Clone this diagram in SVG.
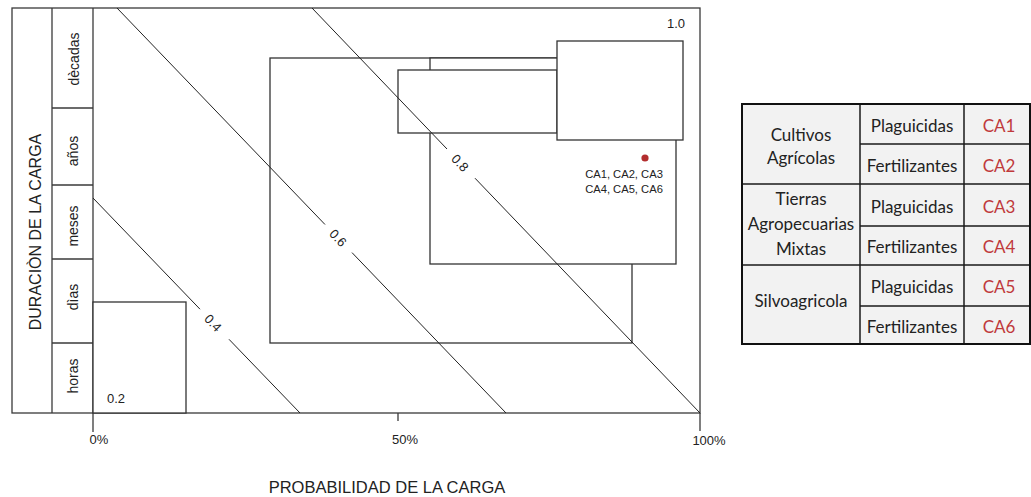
<svg xmlns="http://www.w3.org/2000/svg" width="1031" height="497" viewBox="0 0 1031 497">
<style>
.ln{stroke:#3a3a3a;stroke-width:1.3;fill:none}
.bx{stroke:#333;stroke-width:1.3;fill:#fff}
.dg{stroke:#222;stroke-width:1;fill:none}
.t{font-family:"Liberation Sans",Arial,sans-serif;fill:#222}
.tb{font-family:Lato,"Liberation Sans",sans-serif;font-size:17px;fill:#222;text-anchor:middle}
.red{fill:#c0393b}
</style>
<rect width="1031" height="497" fill="#fff"/>
<g id="chart">
  <rect x="12" y="8" width="688" height="405" class="ln"/>
  <line x1="52" y1="8" x2="52" y2="413" class="ln"/>
  <line x1="93" y1="8" x2="93" y2="432" class="ln"/>
  <line x1="52" y1="108" x2="93" y2="108" class="ln"/>
  <line x1="52" y1="185" x2="93" y2="185" class="ln"/>
  <line x1="52" y1="259" x2="93" y2="259" class="ln"/>
  <line x1="52" y1="343" x2="93" y2="343" class="ln"/>
  <line x1="398" y1="413" x2="398" y2="421" class="ln"/>
  <line x1="700" y1="413" x2="700" y2="431" class="ln"/>
</g>
<g id="boxes">
  <rect x="93" y="302" width="93" height="111" class="bx"/>
  <rect x="270" y="58" width="362" height="285" class="bx"/>
  <rect x="430" y="58" width="246" height="206" class="bx"/>
  <rect x="398" y="70" width="159" height="63" class="bx"/>
  <rect x="557" y="41" width="126" height="99" class="bx"/>
</g>
<g id="connectors">
  <line x1="93" y1="198" x2="200" y2="309.2" class="dg"/>
  <line x1="229" y1="339.3" x2="300" y2="413" class="dg"/>
  <line x1="117" y1="8" x2="325" y2="224.5" class="dg"/>
  <line x1="352" y1="252.6" x2="506" y2="413" class="dg"/>
  <line x1="312" y1="8" x2="447" y2="149" class="dg"/>
  <line x1="475" y1="178.2" x2="700" y2="413" class="dg"/>
</g>
<g id="iso-labels" class="t" font-size="13">
  <text x="213" y="323" text-anchor="middle" dominant-baseline="central" transform="rotate(46 213 323)">0.4</text>
  <text x="338" y="238" text-anchor="middle" dominant-baseline="central" transform="rotate(46 338 238)">0.6</text>
  <text x="460" y="163" text-anchor="middle" dominant-baseline="central" transform="rotate(46 460 163)">0.8</text>
  <text x="676" y="28" text-anchor="middle">1.0</text>
  <text x="116" y="403" text-anchor="middle">0.2</text>
</g>
<g id="axis-labels" class="t">
  <g font-size="14" text-anchor="middle">
    <text transform="translate(79 59) rotate(-90)">dècadas</text>
    <text transform="translate(78 151) rotate(-90)">años</text>
    <text transform="translate(78 226) rotate(-90)">meses</text>
    <text transform="translate(78 297) rotate(-90)">dìas</text>
    <text transform="translate(78 376) rotate(-90)">horas</text>
  </g>
  <g font-size="13" text-anchor="middle">
    <text x="99" y="444">0%</text>
    <text x="405" y="444">50%</text>
    <text x="709" y="445">100%</text>
  </g>
  <text transform="translate(41 232) rotate(-90)" font-size="16" text-anchor="middle">DURACIÒN DE LA CARGA</text>
  <text x="387" y="493" font-size="16.5" text-anchor="middle">PROBABILIDAD DE LA CARGA</text>
</g>
<g id="point">
  <circle cx="645" cy="158" r="3.6" fill="#b32d2e"/>
  <text class="t" x="624" y="178" font-size="11.2" text-anchor="middle">CA1, CA2, CA3</text>
  <text class="t" x="624" y="193" font-size="11.2" text-anchor="middle">CA4, CA5, CA6</text>
</g>
<g id="table">
  <rect x="742" y="104" width="288" height="240" fill="#f2f2f2" stroke="none"/>
  <g stroke="#1a1a1a" stroke-width="1.5">
    <line x1="860" y1="104" x2="860" y2="344"/>
    <line x1="964" y1="104" x2="964" y2="344"/>
    <line x1="742" y1="184" x2="1030" y2="184"/>
    <line x1="742" y1="265" x2="1030" y2="265"/>
    <line x1="860" y1="144" x2="1030" y2="144"/>
    <line x1="860" y1="226" x2="1030" y2="226"/>
    <line x1="860" y1="306" x2="1030" y2="306"/>
  </g>
  <rect x="742" y="104" width="288" height="240" fill="none" stroke="#111" stroke-width="2"/>
  <text class="tb" x="801" y="141">Cultivos</text>
  <text class="tb" x="801" y="164">Agrícolas</text>
  <text class="tb" x="801" y="205">Tierras</text>
  <text class="tb" x="801" y="230">Agropecuarias</text>
  <text class="tb" x="801" y="255">Mixtas</text>
  <text class="tb" x="801" y="307">Silvoagricola</text>
  <text class="tb" x="912" y="132">Plaguicidas</text>
  <text class="tb" x="912" y="172">Fertilizantes</text>
  <text class="tb" x="912" y="213">Plaguicidas</text>
  <text class="tb" x="912" y="253">Fertilizantes</text>
  <text class="tb" x="912" y="293">Plaguicidas</text>
  <text class="tb" x="912" y="333">Fertilizantes</text>
  <text class="tb red" x="999" y="132">CA1</text>
  <text class="tb red" x="999" y="172">CA2</text>
  <text class="tb red" x="999" y="213">CA3</text>
  <text class="tb red" x="999" y="253">CA4</text>
  <text class="tb red" x="999" y="293">CA5</text>
  <text class="tb red" x="999" y="333">CA6</text>
</g>
</svg>
